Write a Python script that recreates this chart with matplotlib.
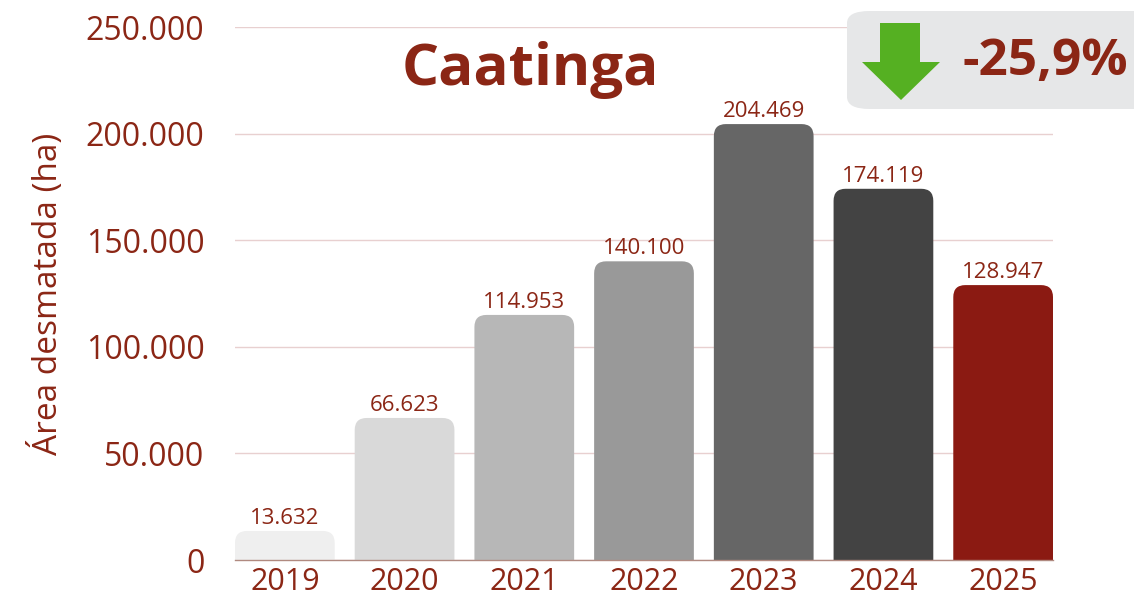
import matplotlib.pyplot as plt
from matplotlib.patches import FancyBboxPatch, Polygon

# data
years = ['2019', '2020', '2021', '2022', '2023', '2024', '2025']
area = [13632, 66623, 114953, 140100, 204469, 174119, 128947]
bar_colors = ['#efefef', '#d9d9d9', '#b7b7b7', '#999999', '#666666', '#434343', '#8b1a12']
yticks = [0, 50000, 100000, 150000, 200000, 250000]
change_label = '-25,9%'

red = '#8b2615'
plt.rcParams['font.family'] = ['Open Sans', 'DejaVu Sans']

def fmt(v):
    return f'{v:,}'.replace(',', '.')

fig = plt.figure(figsize=(11.34, 6.03), dpi=100)
ax = fig.add_axes([0.2072, 0.0713, 0.7214, 0.8839])

x = list(range(len(years)))
bars = ax.bar(x, area, width=0.833, color=bar_colors, zorder=2)
ax.set_xlim(-0.4167, 6.4167)
ax.set_ylim(0, 250000)

# swap bars for rounded-top versions
fig.canvas.draw()
px_x = ax.transData.transform((1, 0))[0] - ax.transData.transform((0, 0))[0]
px_y = ax.transData.transform((0, 1))[1] - ax.transData.transform((0, 0))[1]
aspect = px_x / px_y
r = 12 / px_x
for b, c in zip(bars, bar_colors):
    b.set_visible(False)
    h = b.get_height()
    p = FancyBboxPatch((b.get_x(), -r * aspect * 2), b.get_width(), h + r * aspect * 2,
                       boxstyle=f'round,pad=0,rounding_size={r}',
                       mutation_aspect=aspect, facecolor=c, edgecolor='none', zorder=2)
    ax.add_patch(p)
    ax.annotate(fmt(h), (b.get_x() + b.get_width() / 2, h), xytext=(0, 1.5),
                textcoords='offset points', ha='center', va='bottom',
                fontsize=16, color=red)

ax.set_yticks(yticks)
ax.set_yticklabels([fmt(v) for v in yticks], fontsize=23, color=red)
ax.set_xticks(x)
ax.set_xticklabels(years, fontsize=22, color=red)
ax.tick_params(axis='both', length=0)
ax.tick_params(axis='y', pad=22)
ax.tick_params(axis='x', pad=5)
ax.grid(axis='y', color='#e8d0d0', linewidth=1, zorder=0)
ax.set_axisbelow(True)
for s in ['top', 'right', 'left']:
    ax.spines[s].set_visible(False)
ax.spines['bottom'].set_color('#b08a80')
ax.spines['bottom'].set_linewidth(1)
ax.spines['bottom'].set_zorder(3)

ax.set_ylabel('Área desmatada (ha)', fontsize=24, color=red, labelpad=15)

fig.text(530 / 1134, 1 - 70 / 603, 'Caatinga', fontsize=42, fontweight='bold',
         color=red, ha='center', va='center')

# change badge
W, H = 1134, 603
box = FancyBboxPatch((847 / W, 1 - 109 / H), 320 / W, 98 / H,
                     boxstyle='round,pad=0,rounding_size=0.02', transform=fig.transFigure,
                     facecolor='#e6e7e8', edgecolor='none', zorder=0)
fig.patches.append(box)
arrow = [(880, 23), (920, 23), (920, 62), (940, 62), (901, 100), (862, 62), (880, 62)]
fig.patches.append(Polygon([(px / W, 1 - py / H) for px, py in arrow], closed=True,
                           transform=fig.transFigure, facecolor='#55b022', edgecolor='none'))
fig.text(1128 / W, 1 - 62 / H, change_label, fontsize=37, fontweight='bold',
         color=red, ha='right', va='center')

fig.savefig('out.png', dpi=100)
